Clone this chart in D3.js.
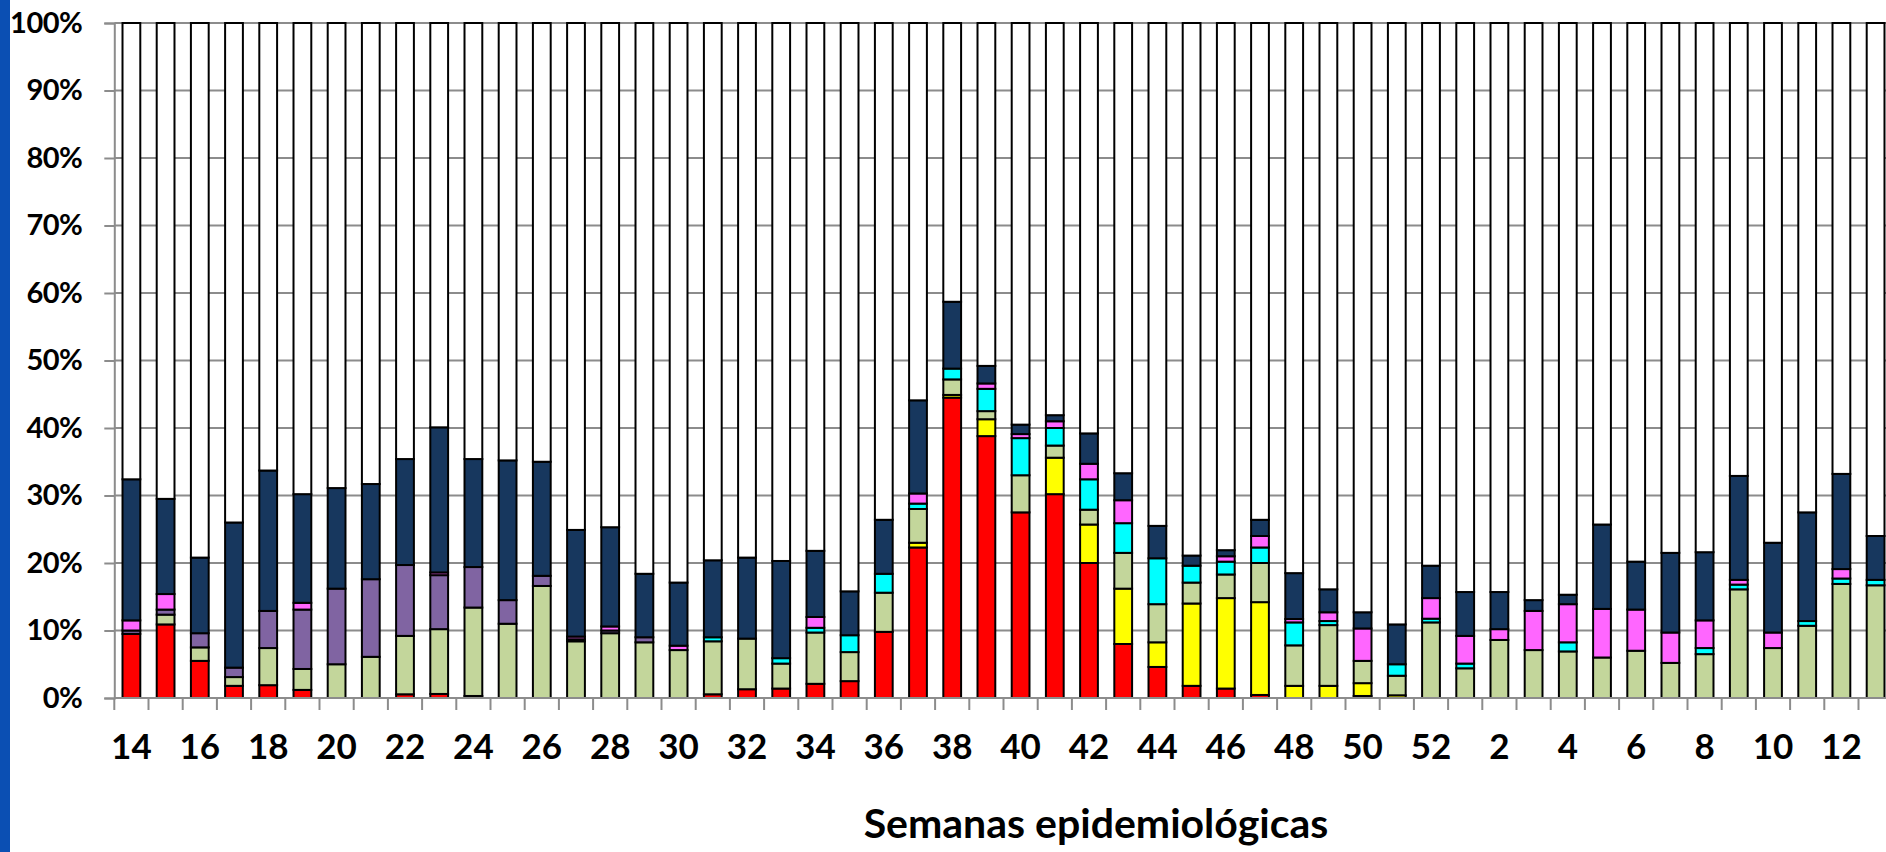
<!DOCTYPE html>
<html>
<head>
<meta charset="utf-8">
<script src="https://cdn.jsdelivr.net/npm/d3@7"></script>
<style>
  body { margin: 0; background: #fff; }
  svg { display: block; }
  text { font-family: Lato, "Open Sans", sans-serif; font-weight: bold; fill: #000; }
</style>
</head>
<body>
<script>
// semanas epidemiologicas (14 a 52, luego 1 a 13)
const semanas = [14, 15, 16, 17, 18, 19, 20, 21, 22, 23, 24, 25, 26, 27, 28, 29, 30,
  31, 32, 33, 34, 35, 36, 37, 38, 39, 40, 41, 42, 43, 44, 45, 46, 47, 48, 49, 50,
  51, 52, 1, 2, 3, 4, 5, 6, 7, 8, 9, 10, 11, 12, 13];

// porcentajes por serie, de abajo hacia arriba
const rojo = [9.5, 10.9, 5.5, 1.8, 1.9, 1.2, 0, 0, 0.55, 0.6, 0.3, 0, 0, 0, 0, 0, 0,
  0.55, 1.3, 1.4, 2.1, 2.5, 9.8, 22.3, 44.5, 38.8, 27.5, 30.2, 20.0, 8.0, 4.6, 1.8, 1.4, 0.45, 0, 0, 0.3,
  0, 0, 0, 0, 0, 0, 0, 0, 0, 0, 0, 0, 0, 0, 0];
const amarillo = [0, 0, 0, 0, 0, 0, 0, 0, 0, 0, 0, 0, 0, 0, 0, 0, 0,
  0, 0, 0, 0, 0, 0, 0.7, 0.4, 2.5, 0, 5.4, 5.7, 8.2, 3.65, 12.2, 13.4, 13.75, 1.8, 1.8, 1.9,
  0.4, 0, 0, 0, 0, 0, 0, 0, 0, 0, 0, 0, 0, 0, 0];
const verde = [0, 1.45, 2.0, 1.3, 5.5, 3.1, 5.0, 6.1, 8.65, 9.6, 13.1, 11.0, 16.6, 8.4, 9.6, 8.25, 7.1,
  7.85, 7.5, 3.7, 7.6, 4.3, 5.8, 5.0, 2.3, 1.2, 5.5, 1.8, 2.2, 5.3, 5.65, 3.1, 3.5, 5.8, 6.0, 9.0, 3.3,
  2.9, 11.2, 4.4, 8.6, 7.1, 6.9, 6.0, 7.0, 5.2, 6.5, 16.1, 7.4, 10.7, 16.9, 16.7];
const morado = [0.5, 0.75, 2.1, 1.4, 5.5, 8.8, 11.2, 11.5, 10.5, 8.0, 6.0, 3.5, 1.5, 0.3, 0.4, 0.75, 0,
  0, 0, 0, 0, 0, 0, 0, 0, 0, 0, 0, 0, 0, 0, 0, 0, 0, 0, 0, 0,
  0, 0, 0, 0, 0, 0, 0, 0, 0, 0, 0, 0, 0, 0, 0];
const cian = [0, 0, 0, 0, 0, 0, 0, 0, 0, 0, 0, 0, 0, 0, 0, 0, 0,
  0.6, 0, 0.8, 0.7, 2.5, 2.8, 0.8, 1.6, 3.3, 5.5, 2.6, 4.5, 4.4, 6.8, 2.5, 1.9, 2.3, 3.4, 0.6, 0,
  1.7, 0.55, 0.7, 0, 0, 1.35, 0, 0, 0, 0.9, 0.7, 0, 0.7, 0.8, 0.8];
const magenta = [1.5, 2.3, 0, 0, 0, 1.0, 0, 0, 0, 0.4, 0, 0, 0, 0.4, 0.6, 0, 0.65,
  0, 0, 0, 1.6, 0, 0, 1.5, 0, 0.8, 0.6, 1.0, 2.3, 3.4, 0, 0, 0.8, 1.7, 0.5, 1.3, 4.8,
  0, 3.05, 4.1, 1.6, 5.8, 5.65, 7.2, 6.1, 4.5, 4.1, 0.7, 2.3, 0, 1.4, 0];
const azul = [20.9, 14.1, 11.2, 21.5, 20.8, 16.1, 14.9, 14.1, 15.7, 21.5, 16.0, 20.7, 16.9, 15.8, 14.7, 9.4, 9.35,
  11.4, 12.0, 14.4, 9.8, 6.5, 8.0, 13.8, 9.9, 2.6, 1.4, 0.9, 4.5, 4.0, 4.8, 1.5, 0.9, 2.4, 6.8, 3.4, 2.4,
  5.9, 4.8, 6.5, 5.5, 1.6, 1.4, 12.5, 7.1, 11.8, 10.1, 15.4, 13.3, 16.1, 14.1, 6.5];

const series = [
  { key: "rojo", values: rojo, color: "#ff0000" },
  { key: "amarillo", values: amarillo, color: "#ffff00" },
  { key: "verde", values: verde, color: "#c3d69b" },
  { key: "morado", values: morado, color: "#8064a2" },
  { key: "cian", values: cian, color: "#00ffff" },
  { key: "magenta", values: magenta, color: "#ff66ff" },
  { key: "azul", values: azul, color: "#17375e" }
];

// tabla por semana, el resto hasta 100% va en blanco
const table = semanas.map((s, i) => {
  const row = { semana: s };
  let total = 0;
  series.forEach(d => { row[d.key] = d.values[i]; total += d.values[i]; });
  row.resto = 100 - total;
  return row;
});
const keys = series.map(d => d.key).concat(["resto"]);
const colors = series.map(d => d.color).concat(["#ffffff"]);

const width = 1886,
  height = 852,
  margin = { left: 114.3, top: 23, bottom: 154 },
  step = 34.2;

const svg = d3.select("body").append("svg")
  .attr("width", width)
  .attr("height", height);

// franja azul del margen
svg.append("rect")
  .attr("x", 0).attr("y", 0)
  .attr("width", 10).attr("height", height)
  .attr("fill", "#0b4fb3");

const x = d3.scaleBand()
  .domain(semanas)
  .range([margin.left, margin.left + step * semanas.length])
  .paddingInner(0.48)
  .paddingOuter(0.24);

const y = d3.scaleLinear()
  .domain([0, 100])
  .range([height - margin.bottom, margin.top]);

const yTicks = d3.range(0, 101, 10);

// lineas de cuadricula
svg.append("g")
  .selectAll("line")
  .data(yTicks)
  .join("line")
  .attr("x1", margin.left)
  .attr("x2", width)
  .attr("y1", d => y(d))
  .attr("y2", d => y(d))
  .attr("stroke", "#8c8c8c")
  .attr("stroke-width", 2);

const stack = d3.stack().keys(keys)(table);

svg.append("g")
  .selectAll("g")
  .data(stack)
  .join("g")
  .attr("fill", (d, i) => colors[i])
  .selectAll("rect")
  .data(d => d.filter(p => p[1] - p[0] > 0))
  .join("rect")
  .attr("x", d => x(d.data.semana))
  .attr("width", x.bandwidth())
  .attr("y", d => y(d[1]))
  .attr("height", d => y(d[0]) - y(d[1]))
  .attr("stroke", "#000")
  .attr("stroke-width", 2);

// eje y
const yAxis = svg.append("g")
  .attr("transform", `translate(${margin.left},0)`)
  .call(d3.axisLeft(y)
    .tickValues(yTicks)
    .tickFormat(d => d + "%")
    .tickSize(10)
    .tickPadding(22));
yAxis.select(".domain").attr("stroke", "#8c8c8c").attr("stroke-width", 2);
yAxis.selectAll(".tick line").attr("stroke", "#8c8c8c").attr("stroke-width", 2);
yAxis.selectAll(".tick text")
  .attr("font-size", 29)
  .attr("letter-spacing", -0.5)
  .attr("font-family", "Lato, sans-serif")
  .attr("font-weight", "bold");

// eje x: linea base y marcas entre categorias
const y0 = y(0);
svg.append("line")
  .attr("x1", margin.left).attr("x2", width)
  .attr("y1", y0).attr("y2", y0)
  .attr("stroke", "#8c8c8c").attr("stroke-width", 2);

const bordes = semanas.map(s => x(s) - (x.step() - x.bandwidth()) / 2);
svg.append("g")
  .selectAll("line")
  .data(bordes)
  .join("line")
  .attr("x1", d => d).attr("x2", d => d)
  .attr("y1", y0).attr("y2", y0 + 12)
  .attr("stroke", "#8c8c8c").attr("stroke-width", 2);

const xAxis = svg.append("g")
  .attr("transform", `translate(0,${y0})`)
  .call(d3.axisBottom(x)
    .tickValues(semanas.filter((s, i) => i % 2 === 0))
    .tickSize(0)
    .tickPadding(36));
xAxis.select(".domain").remove();
xAxis.selectAll(".tick text")
  .attr("font-size", 35)
  .attr("font-family", "Lato, sans-serif")
  .attr("font-weight", "bold");

svg.append("text")
  .attr("x", 1096)
  .attr("y", 838)
  .attr("text-anchor", "middle")
  .attr("font-size", 41)
  .text("Semanas epidemiológicas");
</script>
</body>
</html>
